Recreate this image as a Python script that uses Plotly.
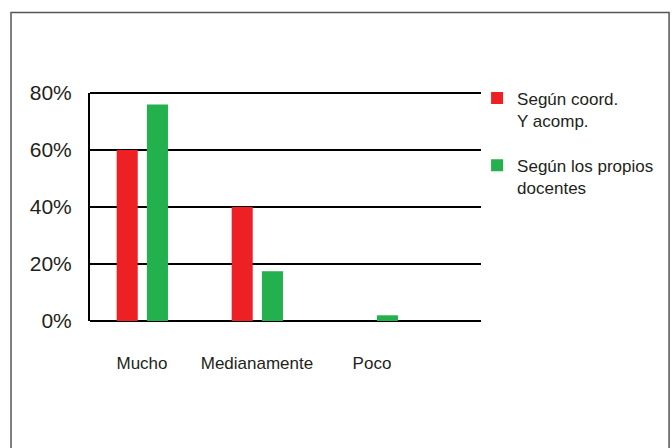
import plotly.graph_objects as go

categories = ["Mucho", "Medianamente", "Poco"]
series_names = ["Según coord.<br>Y acomp.", "Según los propios<br>docentes"]
coord_values = [0.60, 0.40, 0.0]
docentes_values = [0.76, 0.175, 0.02]
y_ticks = [0, 0.2, 0.4, 0.6, 0.8]
y_tick_labels = ["0%", "20%", "40%", "60%", "80%"]

RED = "#ED2024"
GREEN = "#22B14C"
FONT = "Liberation Sans, Arial, sans-serif"
TXT = "#231F20"

fig = go.Figure()
fig.add_trace(go.Bar(x=categories, y=coord_values, name=series_names[0],
                     legendgroup="coord",
                     marker=dict(color=RED, line=dict(width=0)),
                     width=0.183, offset=-0.22))
fig.add_trace(go.Bar(x=categories, y=docentes_values, name=series_names[1],
                     legendgroup="docentes",
                     marker=dict(color=GREEN, line=dict(width=0)),
                     width=0.183, offset=0.043))

fig.update_layout(
    width=672, height=448,
    margin=dict(l=90, r=191, t=93, b=127, autoexpand=False),
    paper_bgcolor="white", plot_bgcolor="white",
    barmode="overlay",
    font=dict(family=FONT, size=17, color=TXT),
    showlegend=True,
    legend=dict(x=0.99, y=1.055, xanchor="left", yanchor="top",
                font=dict(family=FONT, size=17, color=TXT),
                itemwidth=30, tracegroupgap=20, valign="top",
                bgcolor="rgba(0,0,0,0)", traceorder="grouped"),
    xaxis=dict(range=[-0.452, 2.948], showgrid=False, zeroline=False,
               showline=False, ticks="", ticklabelstandoff=30,
               tickfont=dict(family=FONT, size=17, color=TXT)),
    yaxis=dict(range=[0, 0.8], tickvals=y_ticks, ticktext=y_tick_labels,
               showgrid=True, gridcolor="black", gridwidth=2,
               zeroline=True, zerolinecolor="black", zerolinewidth=2,
               showline=True, linecolor="black", linewidth=2,
               ticks="", ticklabelstandoff=12,
               tickfont=dict(family=FONT, size=21, color=TXT)),
    shapes=[dict(type="rect", xref="paper", yref="paper",
                 x0=-0.202, x1=1.481, y0=-0.7, y1=1.353,
                 line=dict(color="#555555", width=1.5),
                 fillcolor="rgba(0,0,0,0)", layer="below"),
            dict(type="line", xref="paper", yref="paper",
                 x0=0, x1=1, y0=1, y1=1,
                 line=dict(color="black", width=2))],
)

fig.write_html("out.html", config={"displayModeBar": False},
               post_script="document.body.style.margin='0';document.body.style.overflow='hidden';")
